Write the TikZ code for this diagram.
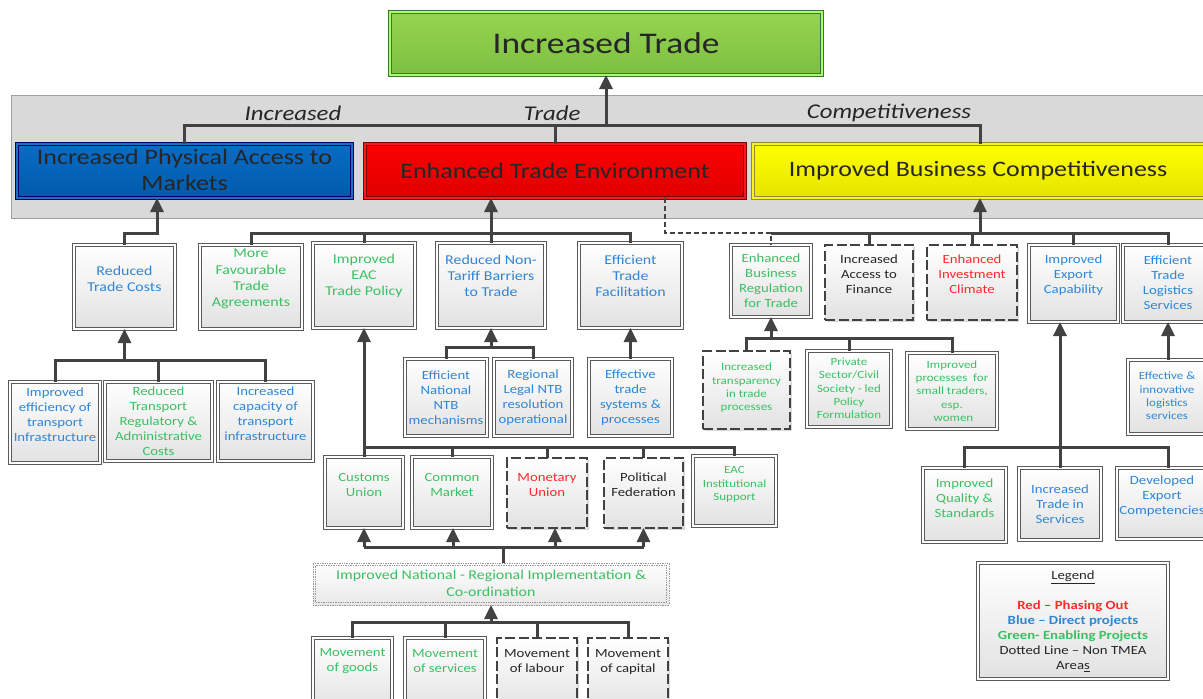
\documentclass[tikz,border=0pt]{standalone}
\usepackage{fontspec}
\setmainfont{Carlito}[FakeStretch=1.18]
\usetikzlibrary{arrows.meta,shadows}
\definecolor{tblue}{HTML}{2F86D6}
\definecolor{tgreen}{HTML}{3CBF62}
\definecolor{tred}{HTML}{FF2A2A}
\definecolor{tblack}{HTML}{262626}
\definecolor{lnc}{HTML}{424242}
\definecolor{bord}{HTML}{5A5A5A}
\definecolor{boxbot}{HTML}{E2E2E2}
\definecolor{bandc}{HTML}{D9D9D9}
\newcommand\fsz[2]{\fontsize{#1}{#2}\selectfont}
\newcommand\bx[6]{\node[#6, minimum width={(#4-#2)*1pt}, minimum height={(#5-#3)*1pt}] (#1) at ({(#2+#4)/2},{(#3+#5)/2}) {};}
\tikzset{
  conn/.style={draw=lnc, line width=3pt},
  arr/.style={conn, -{Triangle[width=13pt,length=14pt]}},
  dconn/.style={draw=lnc, line width=2.6pt, dash pattern=on 5pt off 3pt},
  base/.style={inner sep=0pt, outer sep=0pt},
  shad/.style={drop shadow={shadow xshift=1.5pt, shadow yshift=-1.5pt, opacity=0.3}},
  box/.style={base, shad, draw=bord, line width=0.8pt, double=white, double distance=1.8pt, top color=white, bottom color=boxbot},
  dbox/.style={base, shad, draw=lnc, line width=2.4pt, dash pattern=on 10pt off 3.5pt, top color=white, bottom color=boxbot},
  obox/.style={base, draw=gray!80, line width=0.7pt, densely dotted, top color=white, bottom color=boxbot!80},
  ibord/.style={draw=gray!80, line width=0.7pt, densely dotted},
  txt/.style={align=center, inner sep=0pt, font=\fsz{12.5}{15}, text=tblack},
  t2/.style={txt, font=\fsz{13.5}{16.3}},
  t3/.style={txt, font=\fsz{11}{13.3}},
  t1/.style={txt, font=\fsz{22}{26}},
}
\begin{document}
\begin{tikzpicture}[x=1pt,y=-1pt]
\useasboundingbox (0,0) rectangle (1203,699);
% grey band
\bx{band}{11}{95}{1215}{218}{base, draw=gray!75, line width=0.8pt, fill=bandc}
\node[txt, font=\fsz{21}{25}\itshape] (l1) at (293,113) {Increased};
\node[txt, font=\fsz{21}{25}\itshape] (l2) at (552,113) {Trade};
\node[txt, font=\fsz{21}{25}\itshape] (l3) at (889,113) {Competitiveness};
% top
\bx{inc}{390}{12}{822}{75}{base, shad, draw=black!55!green!60!gray, line width=0.8pt, double=green!40!lime!60!white, double distance=1.6pt, top color={rgb,255:red,150;green,212;blue,80}, bottom color={rgb,255:red,124;green,192;blue,64}}
\node[txt, font=\fsz{30}{34}] (t-inc) at (606,43) {Increased Trade};
% level 1
\bx{pam}{17}{144}{352}{198}{base, shad, draw=blue!40!black, line width=0.8pt, double={rgb,255:red,30;green,110;blue,200}, double distance=1.6pt, top color={rgb,255:red,10;green,108;blue,196}, bottom color={rgb,255:red,0;green,90;blue,170}}
\node[t1] (t-pam) at (184.5,170) {Increased Physical Access to\\Markets};
\bx{ete}{365}{144}{745}{198}{base, shad, draw=red!50!black, line width=0.8pt, double=red!90!white, double distance=1.6pt, top color={rgb,255:red,250;green,0;blue,0}, bottom color={rgb,255:red,225;green,0;blue,0}}
\node[t1] (t-ete) at (555,171) {Enhanced Trade Environment};
\bx{ibc}{753}{144}{1207}{198}{base, shad, draw=olive!60!gray, line width=0.8pt, double=yellow!90!white, double distance=1.6pt, top color={rgb,255:red,255;green,255;blue,0}, bottom color={rgb,255:red,228;green,228;blue,0}}
\node[t1] (t-ibc) at (978,171) {Improved Business Competitiveness};
% level 2 left
\bx{rtc}{74}{245}{175}{329}{box}
\node[t2, text=tblue] (t-rtc) at (124.5,279) {Reduced\\Trade Costs};
\bx{mfta}{200}{245}{302}{329}{box}
\node[t2, text=tgreen] (t-mfta) at (251,279) {More\\Favourable\\Trade\\Agreements};
\bx{ieac}{313}{243}{415}{328}{box}
\node[t2, text=tgreen] (t-ieac) at (364,276) {Improved\\EAC\\Trade Policy};
\bx{rntb}{437}{243}{545}{328}{box}
\node[t2, text=tblue] (t-rntb) at (491,276) {Reduced Non-\\Tariff Barriers\\to Trade};
\bx{etf}{579}{243}{682}{328}{box}
\node[t2, text=tblue] (t-etf) at (630.5,276) {Efficient\\Trade\\Facilitation};
% level 2 right
\bx{ebr}{731}{245}{811}{317}{box}
\node[txt, text=tgreen] (t-ebr) at (771,280.5) {Enhanced\\Business\\Regulation\\for Trade};
\bx{iaf}{825}{245}{913}{320}{dbox}
\node[txt] (t-iaf) at (869,274) {Increased\\Access to\\Finance};
\bx{eic}{927}{245}{1017}{320}{dbox}
\node[txt, text=tred] (t-eic) at (972,274) {Enhanced\\Investment\\Climate};
\bx{iec}{1029}{245}{1118}{322}{box}
\node[txt, text=tblue] (t-iec) at (1073.5,275.5) {Improved\\Export\\Capability};
\bx{etl}{1123}{245}{1213}{322}{box}
\node[txt, text=tblue] (t-etl) at (1168,283) {Efficient\\Trade\\Logistics\\Services};
% level 3 left
\bx{iet}{10}{382}{100}{463}{box}
\node[txt, text=tblue] (t-iet) at (55,414.5) {Improved\\efficiency of\\transport\\Infrastructure};
\bx{rtr}{105}{382}{212}{461}{box}
\node[txt, text=tgreen] (t-rtr) at (158.5,421) {Reduced\\Transport\\Regulatory \&\\Administrative\\Costs};
\bx{ict}{218}{382}{313}{461}{box}
\node[txt, text=tblue] (t-ict) at (265.5,414) {Increased\\capacity of\\transport\\infrastructure};
% NTB row
\bx{enn}{405}{359}{487}{436}{box}
\node[txt, text=tblue] (t-enn) at (446,397.5) {Efficient\\National\\NTB\\mechanisms};
\bx{rln}{494}{359}{572}{436}{box}
\node[txt, text=tblue] (t-rln) at (533,397.5) {Regional\\Legal NTB\\resolution\\operational};
\bx{ets}{589}{359}{672}{436}{box}
\node[txt, text=tblue] (t-ets) at (630.5,397.5) {Effective\\trade\\systems \&\\processes};
% EBR row
\bx{itp}{703}{351}{790}{429}{dbox}
\node[t3, text=tgreen] (t-itp) at (746.5,388) {Increased\\transparency\\in trade\\processes};
\bx{psc}{807}{351}{891}{427}{box}
\node[t3, text=tgreen] (t-psc) at (849,388.5) {Private\\Sector/Civil\\Society - led\\Policy\\Formulation};
\bx{ips}{907}{353}{997}{429}{box}
\node[t3, text=tgreen] (t-ips) at (952,391) {Improved\\processes\ \ for\\small traders,\\esp.\\\ women};
\bx{eil}{1128}{360}{1208}{434}{box}
\node[t3, text=tblue] (t-eil) at (1167,396) {Effective \&\\innovative\\logistics\\services};
% row 4
\bx{cu}{325}{457}{403}{528}{box}
\node[txt, text=tgreen] (t-cu) at (364,484.5) {Customs\\Union};
\bx{cm}{412}{457}{492}{528}{box}
\node[txt, text=tgreen] (t-cm) at (452,484.5) {Common\\Market};
\bx{mu}{507}{458}{587}{528}{dbox}
\node[txt, text=tred] (t-mu) at (547,485) {Monetary\\Union};
\bx{pf}{604}{458}{683}{528}{dbox}
\node[txt] (t-pf) at (643.5,484.5) {Political\\Federation};
\bx{eis}{693}{456}{776}{526}{box}
\node[t3, text=tgreen] (t-eis) at (734.5,484.5) {EAC\\Institutional\\Support};
% IEC children
\bx{iqs}{923}{468}{1006}{542}{box}
\node[txt, text=tgreen] (t-iqs) at (964.5,498) {Improved\\Quality \&\\Standards};
\bx{its}{1019}{468}{1101}{540}{box}
\node[txt, text=tblue] (t-its) at (1060,504) {Increased\\Trade in\\Services};
\bx{dec}{1117}{468}{1219}{539}{box}
\node[txt, text=tblue] (t-dec) at (1162,496.5) {Developed\\Export\\Competencies};
% legend
\bx{leg}{978}{563}{1168}{679}{box}
\node[txt] (t-leg) at (1073,621) {\underline{Legend}\\[15pt]
  {\bfseries\color{tred}Red – Phasing Out}\\
  {\bfseries\color{tblue}Blue – Direct projects}\\
  {\bfseries\color{tgreen}Green- Enabling Projects}\\
  Dotted Line – Non TMEA\\
  Area\underline{s}};
% implementation
\bx{inr}{313}{563}{669}{605}{obox}
\draw[ibord] ([shift={(2.5pt,-2.5pt)}]inr.north west) rectangle ([shift={(-2.5pt,2.5pt)}]inr.south east);
\node[t2, text=tgreen] (t-inr) at (491,583.5) {Improved National - Regional Implementation \&\\Co-ordination};
% bottom
\bx{mg}{313}{638}{392}{712}{box}
\node[txt, text=tgreen] (t-mg) at (352.5,661.5) {Movement\\of goods};
\bx{ms}{405}{638}{485}{712}{box}
\node[txt, text=tgreen] (t-ms) at (445,661.5) {Movement\\of services};
\bx{ml}{497}{638}{577}{712}{dbox}
\node[txt] (t-ml) at (537,661.5) {Movement\\of labour};
\bx{mc}{588}{638}{668}{712}{dbox}
\node[txt] (t-mc) at (628,661.5) {Movement\\of capital};

% ---------- connectors ----------
\coordinate (jT) at (606,125);
\draw[arr] (pam.north) |- (jT) -- (inc.south);
\draw[conn] (ete.north) |- (jT);
\draw[conn] (ibc.north) |- (jT);
% into blue
\coordinate (jA) at (157,233);
\draw[arr] (rtc.north) |- (jA) -- (jA |- pam.south);
% into red
\coordinate (jB) at (491,233);
\draw[arr] (rntb.north) -- (rntb.north |- ete.south);
\draw[conn] (mfta.north) |- (jB);
\draw[conn] (ieac.north) |- (jB);
\draw[conn] (etf.north) |- (jB);
% dotted link
\coordinate (dA) at (665,233);
\draw[dconn] (dA |- ete.south) -- (dA) -| (ebr.north);
% into yellow
\coordinate (jC) at (980,233);
\draw[arr] (etl.north) |- (jC) -- (jC |- ibc.south);
\draw[conn] (ebr.north |- jC) -- (jC);
\draw[conn] (iaf.north) |- (jC);
\draw[conn] (eic.north) |- (jC);
\draw[conn] (iec.north) |- (jC);
% EBR children
\coordinate (jD) at (771,338);
\draw[arr] (psc.north) |- (jD) -- (ebr.south);
\draw[conn] (itp.north) |- (jD);
\draw[conn] (ips.north) |- (jD);
% logistics
\draw[arr] (eil.north) -- (etl.south);
% export capability
\coordinate (jE) at (1060,447);
\draw[arr] (its.north) |- (jE) -- (jE |- iec.south);
\draw[conn] (iqs.north) |- (jE);
\draw[conn] (dec.north) |- (jE);
% reduced trade costs
\coordinate (jF) at (124.5,360);
\draw[arr] (rtr.north) |- (jF) -- (rtc.south);
\draw[conn] (iet.north) |- (jF);
\draw[conn] (ict.north) |- (jF);
% NTB
\coordinate (jG) at (491,347);
\draw[arr] (enn.north) |- (jG) -- (rntb.south);
\draw[conn] (rln.north) |- (jG);
\draw[arr] (ets.north) -- (etf.south);
% EAC trade policy
\coordinate (jH) at (364,447);
\draw[arr] (cu.north) -- (ieac.south);
\draw[conn] (cm.north) |- (jH);
\draw[conn] (mu.north) |- (jH);
\draw[conn] (pf.north) |- (jH);
\draw[conn] (eis.north) |- (jH);
% implementation up
\coordinate (k1) at (364,547);
\coordinate (k2) at (453,547);
\coordinate (k3) at (555,547);
\coordinate (k4) at (643.5,547);
\coordinate (jI) at (503,547);
\draw[conn] (k1) -- (k4);
\draw[conn] (jI |- inr.north) -- (jI);
\draw[arr] (k1) -- (k1 |- cu.south);
\draw[arr] (k2) -- (k2 |- cm.south);
\draw[arr] (k3) -- (k3 |- mu.south);
\draw[arr] (k4) -- (k4 |- pf.south);
% movements
\coordinate (jJ) at (491,622);
\draw[arr] (mg.north) |- (jJ) -- (inr.south);
\draw[conn] (ms.north) |- (jJ);
\draw[conn] (ml.north) |- (jJ);
\draw[conn] (mc.north) |- (jJ);
\end{tikzpicture}
\end{document}
